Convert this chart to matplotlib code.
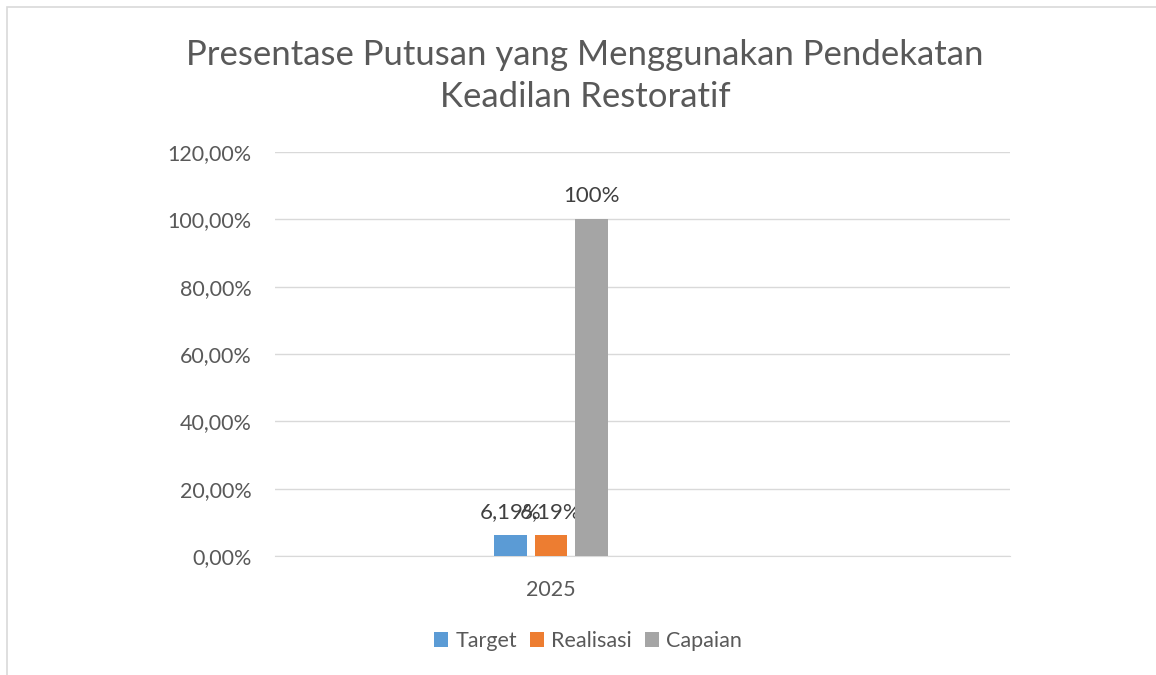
import matplotlib.pyplot as plt
from matplotlib.patches import Rectangle

# --- data ---
categories = ['2025']
series = ['Target', 'Realisasi', 'Capaian']
values = [6.19, 6.19, 100.0]
value_labels = ['6,19%', '6,19%', '100%']
colors = ['#5B9BD5', '#ED7D31', '#A5A5A5']
yticks = [0, 20, 40, 60, 80, 100, 120]
ytick_labels = ['0,00%', '20,00%', '40,00%', '60,00%', '80,00%', '100,00%', '120,00%']

plt.rcParams['font.family'] = ['Lato', 'DejaVu Sans']
text_color = '#595959'

fig = plt.figure(figsize=(11.56, 6.75), dpi=100)
ax = fig.add_axes([275 / 1156, 1 - 556 / 675, 735 / 1156, 404 / 675])

offsets = [-1, 0, 1]
width = 0.81
for off, v, c, lab, lbl in zip(offsets, values, colors, series, value_labels):
    ax.bar(off, v, width=width, color=c, label=lab, zorder=3)
    ax.text(off, v + 4, lbl, ha='center', va='bottom', fontsize=16, color='#404040')

ax.set_xlim(-6.81, 11.33)
ax.set_ylim(0, 120)
ax.set_yticks(yticks)
ax.set_yticklabels(ytick_labels, fontsize=15.5, color=text_color)
ax.set_xticks([0])
ax.set_xticklabels(categories, fontsize=15.5, color=text_color)
ax.tick_params(axis='both', length=0)
ax.tick_params(axis='y', pad=17)
ax.tick_params(axis='x', pad=17)
ax.grid(axis='y', color='#D9D9D9', linewidth=1, zorder=0)
for s in ['top', 'right', 'left']:
    ax.spines[s].set_visible(False)
ax.spines['bottom'].set_color('#D9D9D9')

fig.text(585 / 1156, 1 - 76 / 675, 'Presentase Putusan yang Menggunakan Pendekatan\nKeadilan Restoratif',
         ha='center', va='center', fontsize=25, color=text_color, linespacing=1.4)

leg = fig.legend(loc='center', bbox_to_anchor=(588 / 1156, 1 - 641 / 675), ncol=3, frameon=False,
                 fontsize=15.5, handlelength=0.65, handleheight=0.65, handletextpad=0.35, columnspacing=0.6)
for t in leg.get_texts():
    t.set_color(text_color)

# chart border (partly cropped in the reference)
fig.patches.append(Rectangle((7 / 1156, -0.1), 1.2, 1 - 7 / 675 + 0.1, transform=fig.transFigure,
                             fill=False, edgecolor='#D9D9D9', linewidth=1.2))

fig.savefig('out.png', dpi=100, facecolor='white')
